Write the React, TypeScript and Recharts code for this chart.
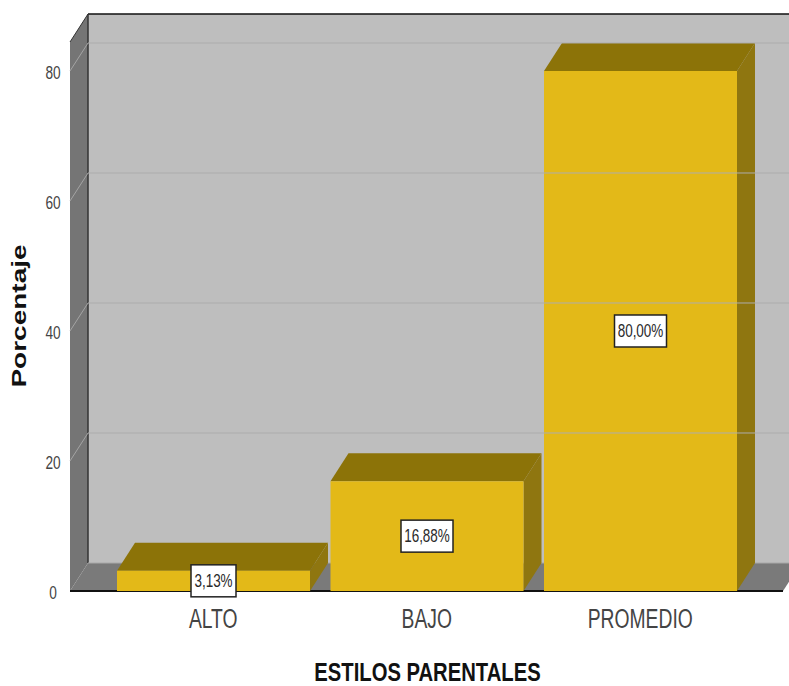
import { BarChart, Bar, XAxis, YAxis, ReferenceArea, ReferenceLine, LabelList, Label } from 'recharts';

const categories = ['ALTO', 'BAJO', 'PROMEDIO'];
const porcentajes = [3.13, 16.88, 80];
const etiquetas = ['3,13%', '16,88%', '80,00%'];
const yTicks = [0, 20, 40, 60, 80];

const data = categories.map((name, i) => ({ name, value: porcentajes[i], label: etiquetas[i] }));

// fake 3d depth
const DX = 18;
const DY = 28;
const PAD_LEFT = 36.5;
const PAD_RIGHT = 36;
const FONT = '"Liberation Sans", Arial, sans-serif';

// the reference text is squeezed sideways, no narrow font here so scale it
const Squeezed = ({ x, y, sx, size, fill = '#333', weight, children }: any) => (
  <text
    transform={`translate(${x},${y}) scale(${sx},1)`}
    textAnchor="middle"
    fontFamily={FONT}
    fontSize={size}
    fontWeight={weight}
    fill={fill}
  >
    {children}
  </text>
);

const Walls = ({ x, y, width, height }: any) => {
  // ReferenceArea leaves out the axis padding, so add it back
  const left = x - PAD_LEFT;
  const right = x + width + PAD_RIGHT;
  const bottom = y + height;
  return (
    <g>
      <rect x={left + DX} y={y - DY} width={right - left} height={height} fill="#bebebe" />
      <polygon points={`${left},${y} ${left + DX},${y - DY} ${left + DX},${bottom - DY} ${left},${bottom}`} fill="#757575" />
      <polygon points={`${left},${bottom} ${left + DX},${bottom - DY} ${right + DX},${bottom - DY} ${right},${bottom}`} fill="#7a7a7a" />
      <line x1={left + DX} y1={y - DY} x2={right + DX} y2={y - DY} stroke="#111" strokeWidth={1.5} />
      <line x1={left + DX} y1={y - DY} x2={left} y2={y} stroke="#333" strokeWidth={1} />
      <line x1={left + DX} y1={y - DY} x2={left + DX} y2={bottom - DY} stroke="#333" strokeWidth={1.5} />
      <line x1={left + DX} y1={bottom - DY} x2={right + DX} y2={bottom - DY} stroke="#a8a8a8" strokeWidth={1} />
      <line x1={left} y1={bottom} x2={right} y2={bottom} stroke="#111" strokeWidth={2} />
    </g>
  );
};

const GridLine = ({ x1, y1, x2, y2 }: any) => (
  <g>
    <line x1={x1 + DX} y1={y1 - DY} x2={x2 + DX} y2={y2 - DY} stroke="#adadad" strokeWidth={1} />
    <line x1={x1} y1={y1} x2={x1 + DX} y2={y1 - DY} stroke="#a4a4a4" strokeWidth={1} />
  </g>
);

const Bar3d = ({ x, y, width, height }: any) => {
  const bottom = y + height;
  const right = x + width;
  return (
    <g>
      <polygon points={`${x},${y} ${x + DX},${y - DY} ${right + DX},${y - DY} ${right},${y}`} fill="#8c7308" />
      <polygon points={`${right},${y} ${right + DX},${y - DY} ${right + DX},${bottom - DY} ${right},${bottom}`} fill="#8f7610" />
      <rect x={x} y={y} width={width} height={height} fill="#e3b918" />
    </g>
  );
};

const ValueBox = ({ x, y, width, height, value }: any) => {
  const cx = x + width / 2;
  const cy = y + height / 2;
  const w = value.length > 5 ? 52 : 45;
  return (
    <g>
      <rect x={cx - w / 2} y={cy - 16} width={w} height={32} fill="#fff" stroke="#222" strokeWidth={1.5} />
      <Squeezed x={cx} y={cy + 6} sx={0.75} size={18} fill="#2a2a2a">{value}</Squeezed>
    </g>
  );
};

const XTick = ({ x, payload }: any) => (
  <Squeezed x={x} y={628} sx={0.69} size={28} fill="#444">{payload.value}</Squeezed>
);

const YTick = ({ x, y, payload }: any) => (
  <Squeezed x={x - 9} y={y + 8} sx={0.72} size={19} fill="#444">{payload.value}</Squeezed>
);

const XTitle = ({ viewBox }: any) => (
  <Squeezed x={viewBox.x + viewBox.width / 2 + 1} y={680.5} sx={0.81} size={25} weight="bold" fill="#111">
    ESTILOS PARENTALES
  </Squeezed>
);

const YTitle = () => (
  <text
    transform="translate(26,316) rotate(-90) scale(1.4,1)"
    textAnchor="middle"
    fontFamily={FONT}
    fontSize={20}
    fontWeight="bold"
    fill="#111"
  >
    Porcentaje
  </text>
);

export default function App() {
  return (
    <div style={{ position: 'absolute', left: 0, top: 0, width: 789, height: 686, overflow: 'hidden', background: '#fff' }}>
      <BarChart width={789} height={686} data={data} margin={{ top: 42, right: 6, bottom: 0, left: 0 }} barCategoryGap={10.5}>
        <ReferenceArea y1={0} y2={84.46} shape={Walls} ifOverflow="visible" />
        {yTicks.filter((t) => t > 0).map((t) => (
          <ReferenceLine key={t} y={t} shape={GridLine} ifOverflow="visible" />
        ))}
        <XAxis
          dataKey="name"
          height={95}
          padding={{ left: PAD_LEFT, right: PAD_RIGHT }}
          axisLine={false}
          tickLine={false}
          tick={XTick}
        >
          <Label content={XTitle} />
        </XAxis>
        <YAxis
          width={70}
          domain={[0, 84.46]}
          ticks={yTicks}
          axisLine={false}
          tickLine={false}
          tick={YTick}
        >
          <Label content={YTitle} />
        </YAxis>
        <Bar dataKey="value" shape={Bar3d} isAnimationActive={false}>
          <LabelList dataKey="label" content={ValueBox} />
        </Bar>
      </BarChart>
    </div>
  );
}
